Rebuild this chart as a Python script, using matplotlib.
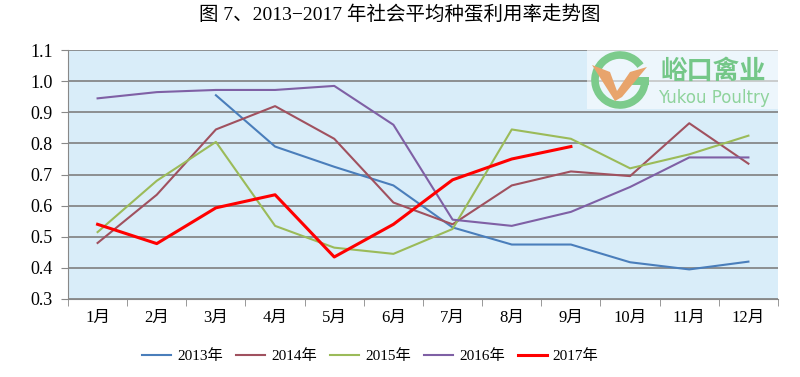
import matplotlib.pyplot as plt
import matplotlib.patches as mpatches
import numpy as np

plt.rcParams['font.family'] = ['Liberation Serif', 'Noto Sans CJK SC', 'DejaVu Sans']

months = ['1月', '2月', '3月', '4月', '5月', '6月', '7月', '8月', '9月', '10月', '11月', '12月']
nan = np.nan
y2013 = [nan, nan, 0.955, 0.79, 0.725, 0.665, 0.53, 0.475, 0.475, 0.418, 0.395, 0.42]
y2014 = [0.48, 0.635, 0.845, 0.92, 0.815, 0.61, 0.54, 0.665, 0.71, 0.695, 0.865, 0.735]
y2015 = [0.515, 0.68, 0.805, 0.535, 0.465, 0.445, 0.525, 0.845, 0.815, 0.72, 0.765, 0.825]
y2016 = [0.945, 0.965, 0.972, 0.972, 0.985, 0.86, 0.555, 0.535, 0.58, 0.66, 0.755, 0.755]
y2017 = [0.54, 0.478, 0.593, 0.635, 0.435, 0.54, 0.683, 0.75, 0.79]

fig = plt.figure(figsize=(8, 3.77), dpi=100)
ax = fig.add_axes([0.085, 0.207, 0.8875, 0.66])
ax.set_facecolor('#d9edf9')

x = np.arange(len(months))
ax.plot(x, y2013, color='#4a7ebb', lw=1.5, label='2013年')
ax.plot(x, y2014, color='#a0515f', lw=1.5, label='2014年')
ax.plot(x, y2015, color='#9bbb59', lw=1.5, label='2015年')
ax.plot(x, y2016, color='#7f60a5', lw=1.5, label='2016年')
ax.plot(x[:len(y2017)], y2017, color='#ff0000', lw=2.2, label='2017年')

ax.set_xlim(-0.5, 11.5)
ax.set_ylim(0.3, 1.1)
ax.set_yticks(np.arange(0.3, 1.11, 0.1))
ax.set_yticklabels(['%.1f' % v for v in np.arange(0.3, 1.11, 0.1)], fontsize=13)
ax.set_xticks(x)
ax.set_xticklabels(months, fontsize=12)
ax.set_xticks(np.arange(-0.5, 12, 1), minor=True)
ax.tick_params(axis='x', which='major', length=0, pad=8)
ax.tick_params(axis='x', which='minor', length=5, color='#888888')
ax.tick_params(axis='y', length=5, color='#888888', pad=6)
ax.grid(axis='y', color='#7f7f7f', lw=1.2)
ax.set_axisbelow(True)
for s in ['top', 'right']:
    ax.spines[s].set_visible(False)
for s in ['left', 'bottom']:
    ax.spines[s].set_color('#888888')

# watermark logo (top right)
ax.add_patch(mpatches.Rectangle((0.731, 0.762), 0.269, 0.238, transform=ax.transAxes,
                                fc='white', ec='none', alpha=0.55, zorder=3))
tr = fig.dpi_scale_trans
ax.add_patch(mpatches.Arc((6.20, 2.97), 0.50, 0.50, theta1=35, theta2=355, transform=tr,
                          color='#7ccb8c', lw=5.5, zorder=4))
ax.add_patch(mpatches.Rectangle((6.30, 2.92), 0.19, 0.08, transform=tr,
                                fc='#7ccb8c', ec='none', zorder=4))
ax.add_patch(mpatches.Polygon([(5.92, 3.12), (6.10, 3.05), (6.17, 2.86), (6.30, 3.05),
                               (6.47, 3.10), (6.22, 2.80), (6.15, 2.76)], closed=True,
                              transform=tr, fc='#e8a46c', ec='none', zorder=5))
ax.text(7.13, 3.06, '峪口禽业', transform=tr, fontsize=19, color='#74c788',
        family=['Noto Sans CJK SC'], fontweight='bold', ha='center', va='center', zorder=5)
ax.text(7.14, 2.79, 'Yukou Poultry', transform=tr, fontsize=12, color='#8fd39c',
        family=['DejaVu Sans'], ha='center', va='center', zorder=5)

fig.suptitle('图 7、2013−2017 年社会平均种蛋利用率走势图', fontsize=14, y=0.985)
fig.legend(loc='lower center', ncol=5, frameon=False, fontsize=11,
           bbox_to_anchor=(0.463, 0.0), handlelength=1.9, handletextpad=0.4,
           columnspacing=0.85)

fig.savefig('out.png', dpi=100)
